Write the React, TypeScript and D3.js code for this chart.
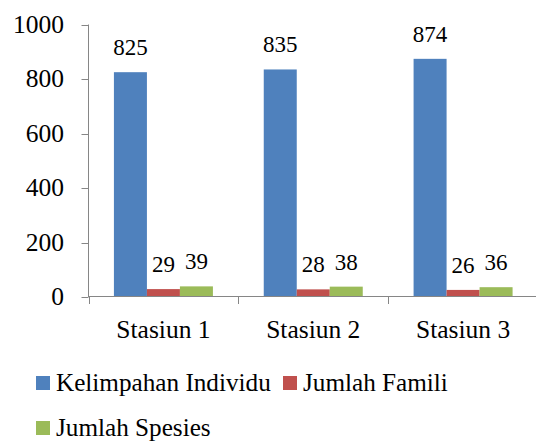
import React from 'react';
import * as d3 from 'd3';

// data
const stations = ['Stasiun 1', 'Stasiun 2', 'Stasiun 3'];
const seriesNames = ['Kelimpahan Individu', 'Jumlah Famili', 'Jumlah Spesies'];
const kelimpahan = [825, 835, 874];
const famili = [29, 28, 26];
const spesies = [39, 38, 36];
const yTicks = [0, 200, 400, 600, 800, 1000];

const colors = ['#4F81BD', '#C0504D', '#9BBB59'];

const W = 536;
const H = 441;
const FONT = 'Liberation Serif';
const axisColor = '#868686';

const left = 88.5, top = 24.5, bottom = 297, right = 538;
const values = [kelimpahan, famili, spesies];

const x0 = d3.scaleBand<string>().domain(stations).range([left, right]);
const inner = 99; // width of the three bars together
const x1 = d3.scaleBand<string>().domain(seriesNames).range([0, inner]);
const y = d3.scaleLinear().domain([0, 1000]).range([bottom, top]);

// legend slots, two per row like the original
const legendPos = [
  { x: 36, y: 376 },
  { x: 283, y: 376 },
  { x: 36, y: 421 },
];

const txt = (size: number) => ({ fontFamily: FONT, fontSize: size, fill: '#000' });

const App: React.FC = () => {
  return (
    <svg width={W} height={H} style={{ position: 'absolute', left: 0, top: 0, background: '#fff' }}>
      {/* y axis */}
      <line x1={left} x2={left} y1={y(1000)} y2={bottom} stroke={axisColor} />
      {yTicks.map(t => {
        const ty = Math.round(y(t)) + 0.5;
        return (
          <g key={t}>
            <line x1={left - 7} x2={left} y1={ty} y2={ty} stroke={axisColor} />
            <text x={64} y={y(t)} dy="0.33em" textAnchor="end" style={txt(25.5)}>{t}</text>
          </g>
        );
      })}

      {/* bars */}
      {stations.map((s, i) => {
        const gx = x0(s)! + (x0.bandwidth() - inner) / 2;
        return seriesNames.map((name, k) => {
          const v = values[k][i];
          const bx = gx + x1(name)!;
          return (
            <g key={s + name}>
              <rect x={bx} y={y(v)} width={x1.bandwidth()} height={bottom - y(v)} fill={colors[k]} />
              <text x={bx + x1.bandwidth() / 2} y={y(v) - 17} textAnchor="middle" style={txt(23)}>{v}</text>
            </g>
          );
        });
      })}

      {/* x axis */}
      <line x1={left} x2={right} y1={bottom - 0.5} y2={bottom - 0.5} stroke={axisColor} />
      {stations.map(s => {
        const tx = Math.round(x0(s)!) + 0.5;
        return (
          <g key={s}>
            <line x1={tx} x2={tx} y1={bottom} y2={bottom + 7} stroke={axisColor} />
            <text x={x0(s)! + x0.bandwidth() / 2} y={338} textAnchor="middle" style={txt(25.5)}>{s}</text>
          </g>
        );
      })}

      {/* legend */}
      {seriesNames.map((name, k) => {
        const p = legendPos[k];
        return (
          <g key={name}>
            <rect x={p.x} y={p.y} width={14} height={14} fill={colors[k]} />
            <text x={p.x + 20} y={p.y + 15} style={txt(25.2)}>{name}</text>
          </g>
        );
      })}
    </svg>
  );
};

export default App;
